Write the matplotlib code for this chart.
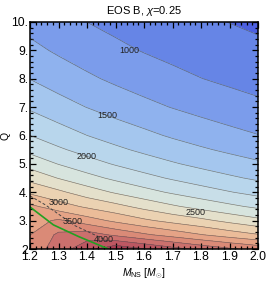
import numpy as np
import matplotlib
matplotlib.use("Agg")
import matplotlib.pyplot as plt
from matplotlib.ticker import MultipleLocator, FixedLocator

plt.rcParams['font.family'] = ['Liberation Sans', 'DejaVu Sans']
plt.rcParams['mathtext.fontset'] = 'custom'
plt.rcParams['mathtext.it'] = 'Liberation Sans:italic'
plt.rcParams['mathtext.rm'] = 'Liberation Sans'

# grid (value at each M, Q node)
m_ns = [1.2, 1.3, 1.4, 1.5, 1.6, 1.7, 1.8, 1.9, 2.0]
q_vals = [2, 2.5, 3, 3.5, 4, 4.5, 5, 5.5, 6, 7, 8, 9, 10]
f_grid = [
    [3590, 3874, 4164, 4437, 4260, 4090, 3930, 3790, 3660],
    [3496, 3799, 3876, 3701, 3543, 3402, 3263, 3133, 3017],
    [3401, 3537, 3368, 3197, 3047, 2922, 2813, 2684, 2567],
    [3307, 3116, 2956, 2824, 2672, 2534, 2411, 2301, 2200],
    [2957, 2801, 2626, 2473, 2338, 2217, 2110, 2013, 1925],
    [2669, 2490, 2334, 2198, 2078, 1971, 1875, 1789, 1711],
    [2402, 2241, 2101, 1978, 1871, 1774, 1688, 1611, 1538],
    [2184, 2037, 1910, 1799, 1700, 1613, 1531, 1456, 1386],
    [2002, 1867, 1751, 1649, 1559, 1471, 1393, 1322, 1258],
    [1716, 1600, 1495, 1399, 1316, 1241, 1172, 1111, 1055],
    [1495, 1386, 1291, 1206, 1131, 1064, 1004, 953, 908],
    [1314, 1216, 1129, 1053, 987, 932, 882, 839, 798],
    [1167, 1076, 999, 936, 880, 830, 786, 746, 710],
]
levels = [600, 750, 1000, 1250, 1500, 1750, 2000, 2250, 2500, 2750,
          3000, 3250, 3500, 3750, 4000, 4250, 4500]
band_colors = ['#4c60e0', '#6685e6', '#7b9ceb', '#8fb2ee', '#a4c6ee', '#b8d6ec',
               '#c8dee8', '#d7e4de', '#e4e0cb', '#ebd2b2', '#ebbc99', '#e5a386',
               '#da8a77', '#cb706d', '#bc5762', '#ac3e54']

# contour labels
lab_text = ['1000', '1500', '2000', '2500', '3000', '3500', '4000']
lab_m = [1.55, 1.47, 1.40, 1.78, 1.30, 1.35, 1.46]
lab_q = [9.0, 6.69, 5.25, 3.28, 3.63, 2.96, 2.32]

# green curve and dashed curve
green_m = [1.2, 1.282, 1.37, 1.475]
green_q = [3.48, 2.85, 2.44, 2.0]
dash_m = [1.2, 1.253, 1.358, 1.435, 1.48]
dash_q = [3.87, 3.56, 2.82, 2.46, 2.25]

fig = plt.figure(figsize=(2.66, 2.82), dpi=100)
ax = fig.add_axes([0.113, 0.117, 0.857, 0.805])

M, Q = np.meshgrid(m_ns, q_vals)
Z = np.array(f_grid, dtype=float)
ax.contourf(M, Q, Z, levels=levels, colors=band_colors)
ax.contour(M, Q, Z, levels=levels[1:-1], colors='#505050', linewidths=0.45, alpha=0.75)

for t, x, y in zip(lab_text, lab_m, lab_q):
    ax.text(x, y, t, fontsize=6.5, ha='center', va='center', color='#222222')

ax.plot(dash_m, dash_q, color='#444444', lw=0.7, ls=(0, (3, 2)))
ax.plot(green_m, green_q, color='#22a022', lw=1.2)

ax.set_xlim(1.2, 2.0)
ax.set_ylim(2, 10)
ax.xaxis.set_major_locator(FixedLocator([1.2, 1.3, 1.4, 1.5, 1.6, 1.7, 1.8, 1.9, 2.0]))
ax.xaxis.set_minor_locator(MultipleLocator(0.02))
ax.yaxis.set_major_locator(FixedLocator([2, 3, 4, 5, 6, 7, 8, 9, 10]))
ax.yaxis.set_minor_locator(MultipleLocator(0.2))
ax.set_xticklabels(['1.2', '1.3', '1.4', '1.5', '1.6', '1.7', '1.8', '1.9', '2.0'])
ax.set_yticklabels(['2', '3.', '4.', '5.', '6.', '7.', '8.', '9.', '10.'])
ax.tick_params(which='both', direction='in', top=True, right=True, labelsize=8.8,
               pad=1.2, width=0.9)
ax.tick_params(which='major', length=4.5)
ax.tick_params(which='minor', length=2.5)
for s in ax.spines.values():
    s.set_linewidth(1.1)

ax.set_xlabel(r'$M_{\rm NS}$ [$M_{\odot}$]', fontsize=7.5, labelpad=3)
ax.set_ylabel('Q', fontsize=7.5, labelpad=1)
ax.set_title(r'EOS B, $\chi$=0.25', fontsize=8, pad=6)

fig.savefig('out.png', dpi=100)
